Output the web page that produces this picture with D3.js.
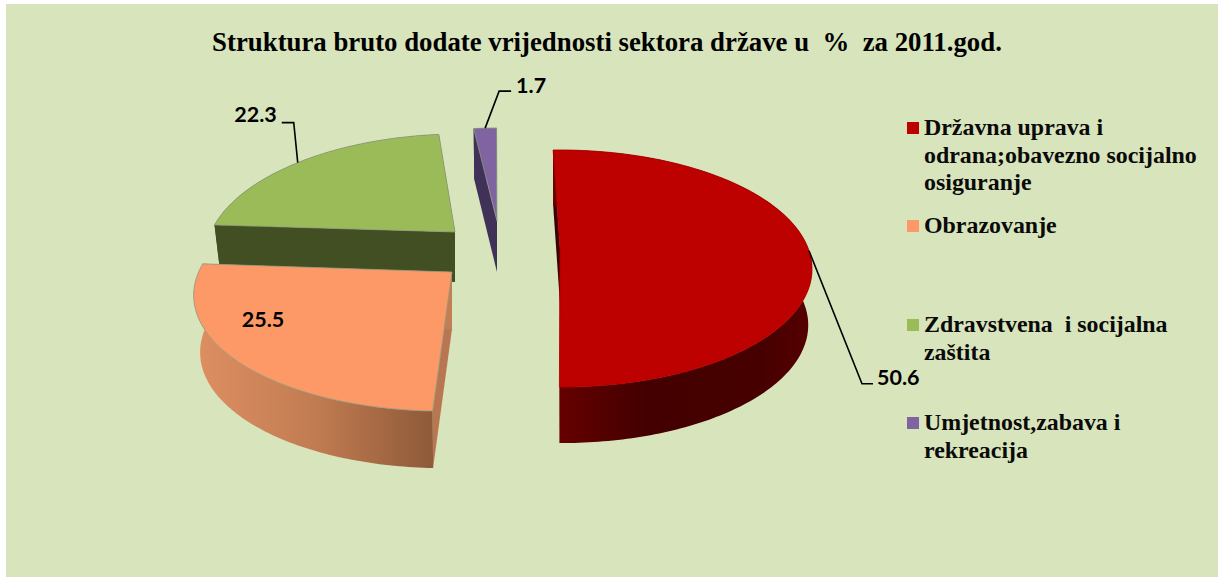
<!DOCTYPE html>
<html><head><meta charset="utf-8">
<script src="https://cdn.jsdelivr.net/npm/d3@7/dist/d3.min.js"></script>
<style>html,body{margin:0;padding:0;background:#fff;overflow:hidden}svg{display:block}</style>
</head><body><svg id="c" width="1218" height="577"></svg>
<script>
const titleText = "Struktura bruto dodate vrijednosti sektora države u  %  za 2011.god.";
const categories = ["Državna uprava i odrana;obavezno socijalno osiguranje","Obrazovanje","Zdravstvena  i socijalna zaštita","Umjetnost,zabava i rekreacija"];
const legendLines = [["Državna uprava i","odrana;obavezno socijalno","osiguranje"],["Obrazovanje"],["Zdravstvena  i socijalna","zaštita"],["Umjetnost,zabava i","rekreacija"]];
const values = [50.6,25.5,22.3,1.7];
const colors = ["#bd0000","#fd9966","#9bbb59","#8064a2"];
const wallColors = ["#4a0000","#b87750","#414f22","#3f3158"];
// per-slice placement of the exploded 3D wedges
const apexX = [560,452,455,497], apexY = [248,272,232,221];
const shear = [0.01,-0.125,-0.12,-0.06], tilt = [0,0.016,0.012,0];
const radX = [248,252,243,252], scaleY = [1,1,1,0.95], depth = [56,57,50,51];
const wallShrink = [0.985,0.975,0.975,0.975];
const legendBaseY = [135,233,332,430];

const svg = d3.select("#c");
svg.append("rect").attr("x",6).attr("y",4).attr("width",1212).attr("height",573).attr("fill","#d8e4bc");
const defs = svg.append("defs");
function grad(id,stops){const g=defs.append("linearGradient").attr("id",id);
  stops.forEach(s=>g.append("stop").attr("offset",s[0]).attr("stop-color",s[1]));}
grad("wall0",[[0,"#680000"],[.35,"#440000"],[.8,"#460000"],[1,"#560000"]]);
grad("wall1",[[0,"#de8f62"],[.5,"#c27c52"],[1,"#8e5a39"]]);
grad("wall2",[[0,"#414f22"],[1,"#414f22"]]);
grad("wall3",[[0,"#3f3158"],[1,"#3f3158"]]);

const k = 0.173, b = 115;
const rad = Math.PI/180;
const pie = d3.pie().sort(null).startAngle(-1.6*rad).endAngle((360-1.6)*rad);
const arcs = pie(values);
function project(i,t){
  const c=Math.cos(t), u=Math.sin(t), w=1+k*c;
  const x0=radX[i]*u/w;
  const y=-b*scaleY[i]*c/w+tilt[i]*x0, x=x0+shear[i]*y;
  return [apexX[i]+x, apexY[i]+y];
}
const line = d3.line();
function rim(i){
  const a=arcs[i], n=Math.max(8,Math.round((a.endAngle-a.startAngle)*60));
  return d3.range(n+1).map(j=>project(i,a.startAngle+(a.endAngle-a.startAngle)*j/n));
}
const down=(i,p)=>[apexX[i]+(p[0]-apexX[i])*wallShrink[i],p[1]+depth[i]];
const order=[2,3,0,1];
order.forEach(i=>{
  const r=rim(i), ap=[apexX[i],apexY[i]];
  const s=r[0], e=r[r.length-1];
  const cut = i===1 ? "#c27e55" : wallColors[i];
  const g=svg.append("g");
  g.append("path").attr("d",line([ap,s,down(i,s),down(i,ap)])+"Z").attr("fill",i===0?"#3a0000":wallColors[i]);
  g.append("path").attr("d",line([ap,e,down(i,e),down(i,ap)])+"Z").attr("fill",cut);
  g.append("path").attr("d",line(r.concat(r.slice().reverse().map(p=>down(i,p))))+"Z")
    .attr("fill",`url(#wall${i})`);
  g.append("path").attr("d",line([ap].concat(r))+"Z").attr("fill",colors[i])
    .attr("stroke",i===0?"#a80000":"#8f9a80").attr("stroke-width",0.8).attr("stroke-linejoin","round");
});

// leader lines + data labels
const mid=(i,off)=>project(i,(arcs[i].startAngle+arcs[i].endAngle)/2+off*rad);
const labelFont='bold 21.5px Lato, "Open Sans", sans-serif';
function leader(i,off,elbow,endDx,tx,ty,anchor){
  const m=mid(i,off), el=[m[0]+elbow[0],m[1]+elbow[1]];
  svg.append("path").attr("d",line([m,el,[el[0]+endDx,el[1]]])).attr("fill","none").attr("stroke","#000").attr("stroke-width",1.6);
  svg.append("text").attr("x",el[0]+endDx+tx).attr("y",el[1]+ty).attr("text-anchor",anchor).style("font",labelFont).text(values[i].toFixed(1));
}
leader(0,2,[53,133],11,4,1,"start");
leader(2,-1.5,[-4,-40],-12,-5,-1,"end");
leader(3,0,[14,-37],12,5,2,"start");
svg.append("text").attr("x",263).attr("y",327).attr("text-anchor","middle").style("font",labelFont).text(values[1].toFixed(1));

svg.append("text").attr("x",607).attr("y",51).attr("text-anchor","middle").style("white-space","pre")
  .style("font",'bold 26.8px "Liberation Serif", serif').text(titleText);

const leg=svg.append("g");
categories.forEach((cat,i)=>{
  leg.append("rect").attr("x",907).attr("y",legendBaseY[i]-13).attr("width",12).attr("height",12).attr("fill",colors[i]);
  legendLines[i].forEach((t,j)=>{
    leg.append("text").attr("x",924).attr("y",legendBaseY[i]+j*27.5).style("white-space","pre")
      .style("font",'bold 23.9px "Liberation Serif", serif').attr("fill","#0a0a0a").text(t);
  });
});
</script></body></html>
